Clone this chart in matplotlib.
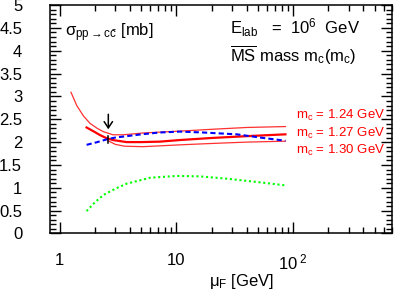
import matplotlib
matplotlib.use("Agg")
import matplotlib.pyplot as plt
from matplotlib.ticker import FixedLocator, FuncFormatter, MultipleLocator

plt.rcParams['font.family'] = ['Liberation Sans', 'DejaVu Sans']
plt.rcParams['mathtext.fontset'] = 'custom'
plt.rcParams['mathtext.rm'] = 'Liberation Sans'
plt.rcParams['mathtext.it'] = 'Liberation Sans'
plt.rcParams['mathtext.bf'] = 'Liberation Sans:bold'

# cross sections (mu_F in GeV, sigma in mb)
mu_124 = [1.25, 1.4, 1.6, 1.82, 2.1, 2.36, 2.86, 3.5, 5.2, 10.7, 20, 40, 86]
sig_124 = [3.09, 2.80, 2.57, 2.41, 2.30, 2.23, 2.16, 2.16, 2.20, 2.24, 2.28, 2.32, 2.34]

mu_127 = [1.70, 2.0, 2.21, 2.5, 2.86, 3.75, 5.0, 7.2, 10.7, 20, 40, 86]
sig_127 = [2.32, 2.22, 2.155, 2.09, 2.045, 2.0, 2.0, 2.01, 2.045, 2.09, 2.13, 2.17]

mu_130 = [2.6, 3.0, 3.6, 5.2, 10.7, 20, 40, 86]
sig_130 = [2.03, 1.95, 1.91, 1.90, 1.94, 1.97, 2.00, 2.02]

mu_blue = [1.70, 2.1, 2.53, 3.0, 3.75, 5.0, 7.2, 10.7, 17, 33, 52, 86]
sig_blue = [1.94, 2.00, 2.06, 2.10, 2.13, 2.17, 2.21, 2.23, 2.21, 2.17, 2.10, 2.03]

mu_green = [1.70, 2.0, 2.36, 3.0, 3.75, 5.94, 10.1, 15.9, 27, 52, 88]
sig_green = [0.49, 0.68, 0.84, 0.98, 1.09, 1.22, 1.26, 1.25, 1.20, 1.12, 1.05]

mass_labels = ["1.24", "1.27", "1.30"]
arrow_mu = 2.61

fig = plt.figure(figsize=(3.95, 2.91), dpi=100)
ax = fig.add_axes([0.1266, 0.1976, 0.8650, 0.7852])

ax.plot(mu_124, sig_124, color='#ff3030', lw=0.9)
ax.plot(mu_127, sig_127, color='#ff0000', lw=1.6)
ax.plot(mu_130, sig_130, color='#ff3030', lw=0.9)
ax.plot(mu_blue, sig_blue, color='#0000ff', lw=1.5, dashes=(2.5, 1.5))
ax.plot(mu_green, sig_green, color='#00ff00', lw=1.5, dashes=(1, 1.3))

# arrow marking the chosen scale
ax.annotate('', xy=(arrow_mu, 2.22), xytext=(arrow_mu, 2.67),
            arrowprops=dict(arrowstyle='->,head_length=0.45,head_width=0.3',
                            color='black', lw=1.1))
ax.plot([arrow_mu, arrow_mu], [2.13, 1.98], color='black', lw=1.1)

ax.set_xscale('log')
ax.set_xlim(0.826, 700)
ax.set_ylim(0, 5)

ax.xaxis.set_major_locator(FixedLocator([1, 10, 100]))
ax.xaxis.set_minor_locator(FixedLocator(
    [k * 10 ** e for e in range(0, 3) for k in range(2, 10)]))
labels = {1: '1', 10: '10', 100: r'$10^{\ 2}$'}
ax.xaxis.set_major_formatter(FuncFormatter(lambda v, p: labels.get(int(round(v)), '')))
ax.yaxis.set_major_locator(MultipleLocator(0.5))
ax.yaxis.set_minor_locator(MultipleLocator(0.1))
ax.yaxis.set_major_formatter(FuncFormatter(lambda v, p: f'{v:g}'))

ax.tick_params(which='both', direction='in', top=True, right=True, width=1)
ax.tick_params(which='major', length=8, labelsize=12)
ax.tick_params(axis='y', which='major', pad=20)
ax.tick_params(axis='x', which='major', pad=14)
ax.tick_params(which='minor', length=4.5)
for s in ax.spines.values():
    s.set_linewidth(1.1)

ax.text(0.56, -0.212, r'$\mu_F$ [GeV]', transform=ax.transAxes,
        ha='center', va='center', fontsize=12)

ax.text(0.044, 0.861, r'$\sigma_{pp\rightarrow c\bar{c}}$ [mb]',
        transform=ax.transAxes, fontsize=12, va='baseline')
ax.text(0.527, 0.876, r'E$_{lab}$   =  10$^6$  GeV',
        transform=ax.transAxes, fontsize=12, va='baseline')
ax.text(0.527, 0.752, r'$\overline{\mathrm{MS}}$ mass m$_c$(m$_c$)',
        transform=ax.transAxes, fontsize=12, va='baseline')

for lab, yy in zip(mass_labels, [0.501, 0.424, 0.348]):
    ax.text(0.98, yy, 'm$_c$ = ' + lab + ' GeV', transform=ax.transAxes,
            fontsize=9.5, color='#ff0000', ha='right', va='baseline')

fig.savefig('out.png', dpi=100)
